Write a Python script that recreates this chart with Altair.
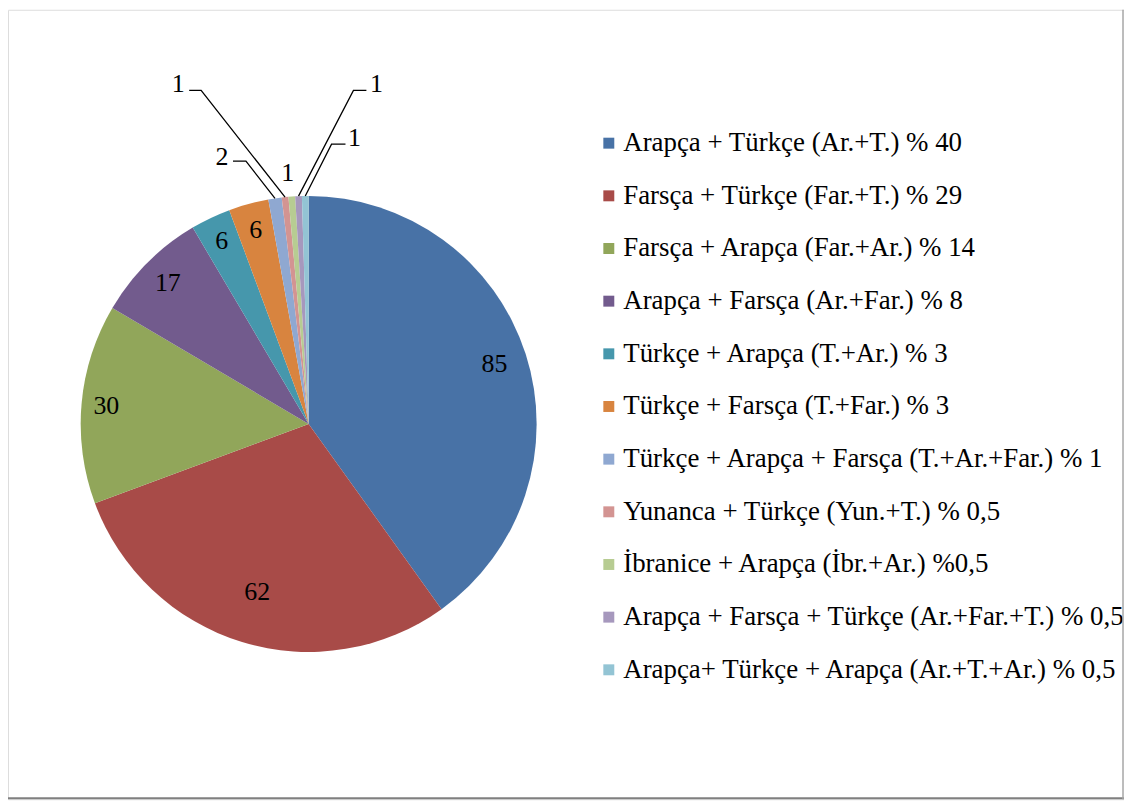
import math
import altair as alt
import pandas as pd

# ---------------- data ----------------
legend_labels = [
    "Arapça + Türkçe (Ar.+T.) % 40",
    "Farsça + Türkçe (Far.+T.) % 29",
    "Farsça + Arapça (Far.+Ar.) % 14",
    "Arapça + Farsça (Ar.+Far.) % 8",
    "Türkçe + Arapça (T.+Ar.) % 3",
    "Türkçe + Farsça (T.+Far.) % 3",
    "Türkçe + Arapça + Farsça (T.+Ar.+Far.) % 1",
    "Yunanca + Türkçe (Yun.+T.) % 0,5",
    "İbranice + Arapça (İbr.+Ar.) %0,5",
    "Arapça + Farsça + Türkçe (Ar.+Far.+T.) % 0,5",
    "Arapça+ Türkçe + Arapça (Ar.+T.+Ar.) % 0,5",
]
counts = [85, 62, 30, 17, 6, 6, 2, 1, 1, 1, 1]
colors = [
    "#4872A6", "#A84B48", "#91A65A", "#725B8D", "#4697AC", "#D8843F",
    "#8FA8D1", "#D39492", "#B7CC92", "#A698BD", "#93C4D4",
]

# ---------------- layout (styling) ----------------
W, H = 1121, 793
CX, CY, R = 302, 416, 229
FONT = "Liberation Serif"
FS = 26
LFS = 27
inside_label_radius = [196, 177, 204, 200, 203, 202]
# outside labels: (slice index, elbow offset, end offset, label offset) relative to pie centre
outside = [
    (6, (-63, -264), (-76, -264), (-87, -268)),
    (7, (-108, -335), (-120, -335), (-131, -341)),
    (8, None, None, (-21, -252)),
    (9, (45, -335), (58, -335), (68, -341)),
    (10, (23, -281), (37, -281), (46, -287)),
]

total = sum(counts)
mids = []
cum = 0
for c in counts:
    a0 = cum / total * 2 * math.pi
    cum += c
    a1 = cum / total * 2 * math.pi
    mids.append((a0 + a1) / 2)

df = pd.DataFrame({"cat": legend_labels, "count": counts, "idx": list(range(len(counts)))})

# inside labels (derived from slice angles)
ins = []
for i, r in enumerate(inside_label_radius):
    ins.append({"px": CX + r * math.sin(mids[i]), "py": CY - r * math.cos(mids[i]),
                "t": str(counts[i])})
ins_df = pd.DataFrame(ins)

out_labels = []
lines = []
for i, elbow, end, lab in outside:
    out_labels.append({"px": CX + lab[0], "py": CY + lab[1], "t": str(counts[i])})
    if elbow is not None:
        ex, ey = CX + R * math.sin(mids[i]), CY - R * math.cos(mids[i])
        lines.append({"id": i, "o": 0, "px": ex, "py": ey})
        lines.append({"id": i, "o": 1, "px": CX + elbow[0], "py": CY + elbow[1]})
        lines.append({"id": i, "o": 2, "px": CX + end[0], "py": CY + end[1]})
out_df = pd.DataFrame(out_labels)
lines_df = pd.DataFrame(lines)

xs = alt.Scale(domain=[0, W], range=[0, W])
ys = alt.Scale(domain=[0, H], range=[0, H])
color_scale = alt.Scale(domain=legend_labels, range=colors)

pie = alt.Chart(df).mark_arc(outerRadius=R).encode(
    theta=alt.Theta("count:Q", stack=True),
    color=alt.Color("cat:N", scale=color_scale, legend=None),
    order=alt.Order("idx:Q"),
    x=alt.value(CX),
    y=alt.value(CY),
)

inside_text = alt.Chart(ins_df).mark_text(
    font=FONT, fontSize=FS, color="black", align="center", baseline="middle"
).encode(
    x=alt.X("px:Q", scale=xs, axis=None),
    y=alt.Y("py:Q", scale=ys, axis=None),
    text="t:N",
)

leader = alt.Chart(lines_df).mark_line(color="black", strokeWidth=1.3).encode(
    x=alt.X("px:Q", scale=xs, axis=None),
    y=alt.Y("py:Q", scale=ys, axis=None),
    detail="id:N",
    order="o:Q",
)

outside_text = alt.Chart(out_df).mark_text(
    font=FONT, fontSize=FS, color="black", align="center", baseline="middle"
).encode(
    x=alt.X("px:Q", scale=xs, axis=None),
    y=alt.Y("py:Q", scale=ys, axis=None),
    text="t:N",
)

ly = alt.Scale(domain=legend_labels, range=[134, 663], padding=0)
leg_sq = alt.Chart(df).mark_square(size=121, opacity=1).encode(
    x=alt.value(603.5),
    y=alt.Y("cat:N", scale=ly, sort=legend_labels, axis=None),
    color=alt.Color("cat:N", scale=color_scale, legend=None),
)
leg_tx = alt.Chart(df).mark_text(
    font=FONT, fontSize=LFS, color="black", align="left", baseline="middle"
).encode(
    x=alt.value(618),
    y=alt.Y("cat:N", scale=ly, sort=legend_labels, axis=None),
    text="cat:N",
)

border_df = pd.DataFrame({"a": [0]})
bottom = alt.Chart(border_df).mark_rule(color="#7f7f7f", strokeWidth=2).encode(
    x=alt.value(0), x2=alt.value(W), y=alt.value(H - 1)
)
right = alt.Chart(border_df).mark_rule(color="#a6a6a6", strokeWidth=1.5).encode(
    x=alt.value(W - 1), y=alt.value(0), y2=alt.value(H)
)

geo = alt.layer(pie, inside_text, leader, outside_text)
leg = alt.layer(leg_sq, leg_tx)

chart = alt.layer(geo, leg, bottom, right).resolve_scale(
    x="independent", y="independent"
).properties(
    width=W, height=H, padding=0, autosize=alt.AutoSizeParams(type="none")
).configure_view(stroke="#d9d9d9", strokeWidth=1.5).configure(background="white")

chart.save("out.html", embed_options={"renderer": "svg", "actions": False})
